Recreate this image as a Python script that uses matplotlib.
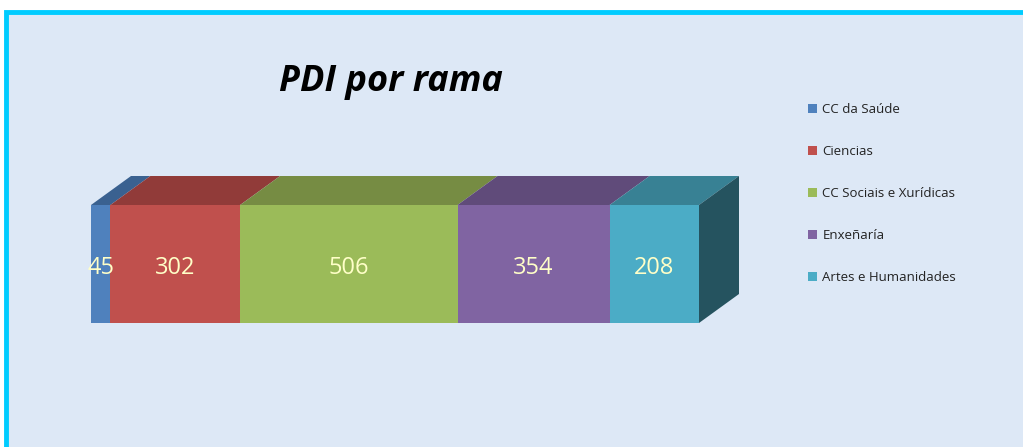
import numpy as np
import matplotlib
matplotlib.use("Agg")
import matplotlib.pyplot as plt
from matplotlib.patches import Polygon, Rectangle, Patch

# data
ramas = ["CC da Saúde", "Ciencias", "CC Sociais e Xurídicas", "Enxeñaría", "Artes e Humanidades"]
pdi = [45, 302, 506, 354, 208]

front = ["#4F81BD", "#C0504D", "#9BBB59", "#8064A2", "#4BACC6"]
top = ["#3A6190", "#913B39", "#768C43", "#604B7A", "#388194"]
side = "#25535F"

plt.rcParams['font.family'] = ['Open Sans', 'DejaVu Sans']

W, H = 1023, 447
fig = plt.figure(figsize=(W / 100, H / 100), dpi=100, facecolor="white")

# background panel with cyan frame (only top/left visible)
fig.patches.append(Rectangle((6 / W, -0.1), 1.2, (H - 12) / H + 0.1, transform=fig.transFigure,
                             facecolor="#DDE8F6", edgecolor="#00CCFF", linewidth=3.5, zorder=-5))

# axes laid over the front face of the bar
x0px, x1px, ytop, ybot = 91, 699, 205, 323
ax = fig.add_axes([x0px / W, (H - ybot) / H, (x1px - x0px) / W, (ybot - ytop) / H])
ax.set_zorder(2)
ax.set_axis_off()
total = sum(pdi)
ax.set_xlim(0, total)
ax.set_ylim(0, 1)

dx = total * 40 / (x1px - x0px)
dy = 29 / (ybot - ytop)

lefts = np.concatenate([[0], np.cumsum(pdi)[:-1]])
for l, v, c in zip(lefts, pdi, top):
    ax.add_patch(Polygon([(l, 1), (l + v, 1), (l + v + dx, 1 + dy), (l + dx, 1 + dy)],
                         closed=True, facecolor=c, edgecolor="none", clip_on=False, zorder=1))
ax.add_patch(Polygon([(total, 0), (total + dx, dy), (total + dx, 1 + dy), (total, 1)],
                     closed=True, facecolor=side, edgecolor="none", clip_on=False, zorder=1))
ax.barh(0.5, pdi, left=lefts, height=1, color=front, edgecolor="none", zorder=2, clip_on=False)
for l, v in zip(lefts, pdi):
    ax.text(l + v / 2, 0.47, str(v), ha="center", va="center", fontsize=17,
            color="#FFFFC8", zorder=3, clip_on=False)

fig.text(391 / W, 1 - 82 / H, "PDI por rama", ha="center", va="center", fontsize=26,
         fontweight="bold", fontstyle="italic", color="black")

handles = [Patch(facecolor=c, edgecolor="none") for c in front]
fig.legend(handles, ramas, loc="upper left", bbox_to_anchor=(796 / W, 1 - 91 / H),
           frameon=False, fontsize=9.5, handlelength=0.7, handleheight=0.7,
           handletextpad=0.4, labelspacing=2.2, labelcolor="#222222")

fig.savefig("out.png", dpi=100, facecolor=fig.get_facecolor())
